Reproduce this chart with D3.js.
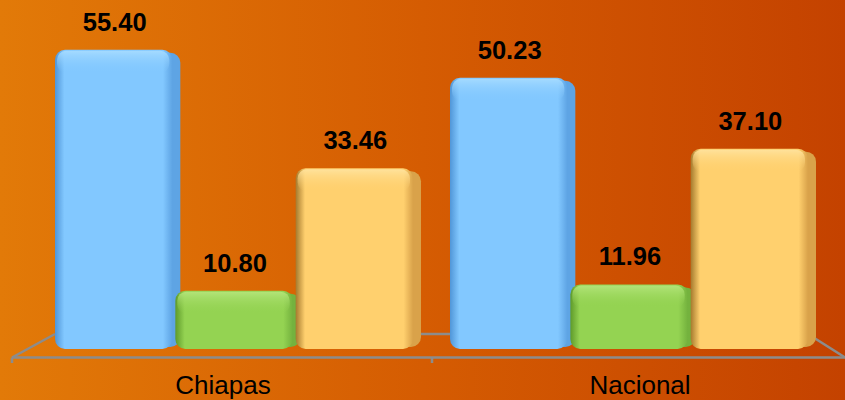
<!DOCTYPE html>
<html><head><meta charset="utf-8">
<script src="https://cdn.jsdelivr.net/npm/d3@7"></script>
<style>html,body{margin:0;padding:0;overflow:hidden}</style>
</head><body>
<svg id="c" width="845" height="400"></svg>
<script>
const categories = ["Chiapas", "Nacional"];
const seriesNames = ["A", "B", "C"];
const valuesA = [55.40, 50.23];
const valuesB = [10.80, 11.96];
const valuesC = [33.46, 37.10];
const valueLabels = [["55.40","10.80","33.46"],["50.23","11.96","37.10"]];

const seriesValues = [valuesA, valuesB, valuesC];
const colors = [
  {face:"#82C8FF", light:"#A8DCFF", dark:"#5096D8", side:"#5EA4E4"},
  {face:"#94D352", light:"#B6E67E", dark:"#5E9A2A", side:"#74B23E"},
  {face:"#FFD06E", light:"#FFE4A0", dark:"#A57A2E", side:"#D9A24A"}
];

const svg = d3.select("#c");
const W = 845, H = 400;
const defs = svg.append("defs");
const bg = defs.append("linearGradient").attr("id","bg").attr("x1","0").attr("x2","1").attr("y1","0").attr("y2","0");
bg.append("stop").attr("offset","0").attr("stop-color","#E27A08");
bg.append("stop").attr("offset","0.5").attr("stop-color","#D55C02");
bg.append("stop").attr("offset","1").attr("stop-color","#C44200");
svg.append("rect").attr("width",W).attr("height",H).attr("fill","url(#bg)");

colors.forEach((c,i)=>{
  const g = defs.append("linearGradient").attr("id","face"+i).attr("x1","0").attr("x2","1").attr("y1","0").attr("y2","0");
  g.append("stop").attr("offset","0").attr("stop-color",c.dark);
  g.append("stop").attr("offset","0.08").attr("stop-color",c.face);
  g.append("stop").attr("offset","0.92").attr("stop-color",c.face);
  g.append("stop").attr("offset","1").attr("stop-color",c.side);
  const t = defs.append("linearGradient").attr("id","top"+i).attr("x1","0").attr("x2","0").attr("y1","0").attr("y2","1");
  t.append("stop").attr("offset","0").attr("stop-color",c.light).attr("stop-opacity",0.9);
  t.append("stop").attr("offset","1").attr("stop-color",c.face).attr("stop-opacity",0);
});

const x0 = d3.scaleBand().domain(categories).range([55, 808]).paddingInner(0.0937);
const x1 = d3.scaleBand().domain(seriesNames).range([0, x0.bandwidth()]).paddingInner(0.025);
const y = d3.scaleLinear().domain([0, 60]).range([349, 25]);

// floor
const floor = svg.append("g").attr("stroke","#8C8C8C").attr("stroke-width",2.5).attr("fill","none");
floor.append("path").attr("d","M12,357.5 L55,334 M808,334 L845,357.5");
floor.append("line").attr("x1",12).attr("x2",845).attr("y1",357.5).attr("y2",357.5);
floor.append("line").attr("x1",413).attr("x2",450).attr("y1",334).attr("y2",334);
floor.append("line").attr("x1",12).attr("x2",12).attr("y1",357.5).attr("y2",363);
floor.append("line").attr("x1",432).attr("x2",432).attr("y1",357.5).attr("y2",363);

const depthX = 8;
categories.forEach((cat, ci) => {
  const g = svg.append("g").attr("transform", `translate(${x0(cat)},0)`);
  seriesNames.forEach((s, si) => {
    const v = seriesValues[si][ci];
    const bx = x1(s), bw = x1.bandwidth();
    const top = y(v), bottom = y(0);
    g.append("rect").attr("x", bx + depthX).attr("y", top + 3)
      .attr("width", bw).attr("height", bottom - top - 5)
      .attr("rx", 10).attr("fill", colors[si].side);
    g.append("rect").attr("x", bx).attr("y", top)
      .attr("width", bw).attr("height", bottom - top)
      .attr("rx", 10).attr("fill", `url(#face${si})`);
    g.append("rect").attr("x", bx + 2).attr("y", top + 1)
      .attr("width", bw - 5).attr("height", Math.min(22, bottom - top - 2))
      .attr("rx", 9).attr("fill", `url(#top${si})`);
    g.append("text").attr("x", bx + bw/2 + 1).attr("y", top - 19)
      .attr("text-anchor","middle").attr("font-family","Liberation Sans, Arial, sans-serif")
      .attr("font-weight","bold").attr("font-size",25.5).attr("fill","#000")
      .text(valueLabels[ci][si]);
  });
});

svg.append("g").selectAll("text").data(categories).join("text")
  .attr("x", (d,i) => i === 0 ? 223 : 640)
  .attr("y", 394)
  .attr("text-anchor","middle").attr("font-family","Liberation Sans, Arial, sans-serif")
  .attr("font-size",26).attr("fill","#000").text(d=>d);
</script>
</body></html>
